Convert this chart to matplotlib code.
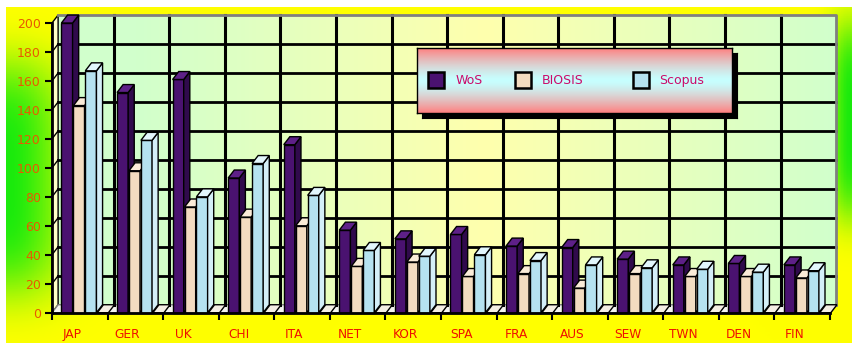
import numpy as np
import matplotlib.pyplot as plt
from matplotlib.patches import Polygon, Rectangle

categories = ["JAP", "GER", "UK", "CHI", "ITA", "NET", "KOR", "SPA", "FRA", "AUS", "SEW", "TWN", "DEN", "FIN"]
wos = [200, 152, 161, 93, 116, 57, 51, 54, 46, 45, 37, 33, 34, 33]
biosis = [143, 98, 73, 66, 60, 32, 35, 25, 27, 17, 27, 25, 25, 24]
scopus = [167, 119, 80, 103, 81, 43, 39, 40, 36, 33, 31, 30, 28, 29]
blank = [0, 0, 0, 0, 0, 0, 0, 0, 0, 0, 0, 0, 0, 0]
series_names = ["WoS", "BIOSIS", "Scopus"]
yticks = [0, 20, 40, 60, 80, 100, 120, 140, 160, 180, 200]

W, H = 859, 351
DX, DY = 0.11, 5.5          # fake 3d depth, in data units
BAR_W = 0.2
OFFSETS = [0.17, 0.385, 0.60, 0.815]
# front, side, top
STYLES = [("#4a1270", "#300a4c", "#5e2088"),
          ("#f3dcc0", "#d8bfa2", "#fbecd8"),
          ("#b5e2f0", "#d4eff8", "#e2f6fc"),
          ("#f0e6d8", "#d0c8bc", "#f4eee4")]


def fx(px):
    return px / W


def fy(py):
    return (H - py) / H


fig = plt.figure(figsize=(W / 100, H / 100), dpi=100)
fig.patch.set_facecolor("white")

# outer yellow/green background
bg = fig.add_axes([fx(6), fy(343), fx(846), 336 / H])
X, Y = np.meshgrid(np.linspace(6, 852, 300), np.linspace(7, 343, 150))
wl = np.exp(-((X - 6) / 58) ** 2) * np.exp(-((Y - 178) / 118) ** 4)
wr = np.exp(-((852 - X) / 22) ** 2) * np.exp(-((Y - 120) / 100) ** 4)
w = np.maximum(wl, wr)[..., None]
yellow = np.array([1.0, 1.0, 0.0])
green = np.array([0.1, 0.92, 0.05])
bg.imshow(yellow * (1 - w) + green * w, aspect="auto", extent=[0, 1, 1, 0])
bg.axis("off")

ax = fig.add_axes([fx(52), fy(312.7), 778 / W, 289.7 / H], zorder=1)
ax.set_facecolor("none")
n = len(categories)

# back wall gradient
t = np.linspace(0, 1, 200)
lg_green = np.array([0.82, 1.0, 0.80])
wall_yel = np.array([1.0, 1.0, 0.68])
k = np.clip(1 - np.abs(t - 0.55) / 0.45, 0, 1)[:, None]
wall = lg_green * (1 - k) + wall_yel * k
ax.imshow(wall[None, :, :], aspect="auto", extent=[DX, n + DX, DY, 200 + DY], zorder=0, clip_on=False)

# left wall and floor
ax.add_patch(Polygon([(0, 0), (DX, DY), (DX, 200 + DY), (0, 200)], closed=True,
                     facecolor="#ffffc8", edgecolor="black", lw=1, zorder=0.5, clip_on=False))
ax.add_patch(Polygon([(0, 0), (n, 0), (n + DX, DY), (DX, DY)], closed=True,
                     facecolor="#f4f4f0", edgecolor="#808080", lw=1, zorder=0.5, clip_on=False))

# grid on the back wall
for v in yticks[1:-1]:
    ax.plot([DX, n + DX], [v + DY, v + DY], color="black", lw=2, zorder=0.6, clip_on=False)
    ax.plot([0, DX], [v, v + DY], color="black", lw=1, zorder=0.6, clip_on=False)
for i in range(1, n):
    ax.plot([i + DX, i + DX], [DY, 200 + DY], color="black", lw=2.2, zorder=0.6, clip_on=False)
    ax.plot([i, i + DX], [0, DY], color="black", lw=1, zorder=0.6, clip_on=False)
ax.plot([DX, n + DX, n + DX], [200 + DY, 200 + DY, DY], color="#808080", lw=2, zorder=0.6, clip_on=False)
ax.plot([n, n + DX], [0, DY], color="#808080", lw=1.5, zorder=0.6, clip_on=False)

# 3d-ish bars, drawn left to right so nearer faces cover
z = 2
for i in range(n):
    for s, vals in enumerate([wos, biosis, scopus, blank]):
        front, side, top = STYLES[s]
        x0 = i + OFFSETS[s]
        h = vals[i]
        if h > 0:
            ax.bar(x0, h, width=BAR_W, align="edge", color=front, edgecolor="black", lw=1,
                   zorder=z, clip_on=False)
            ax.add_patch(Polygon([(x0 + BAR_W, 0), (x0 + BAR_W + DX, DY), (x0 + BAR_W + DX, h + DY),
                                  (x0 + BAR_W, h)], closed=True, facecolor=side, edgecolor="black",
                                 lw=1, zorder=z, clip_on=False))
        ax.add_patch(Polygon([(x0, h), (x0 + BAR_W, h), (x0 + BAR_W + DX, h + DY), (x0 + DX, h + DY)],
                             closed=True, facecolor=top, edgecolor="black", lw=1, zorder=z, clip_on=False))
        z += 0.01

ax.set_xlim(0, n)
ax.set_ylim(0, 200)
for side in ["top", "right"]:
    ax.spines[side].set_visible(False)
for side in ["left", "bottom"]:
    ax.spines[side].set_linewidth(2)
    ax.spines[side].set_zorder(5)

ax.set_yticks(yticks)
ax.set_yticklabels([str(v) for v in yticks])
ax.tick_params(axis="y", direction="out", length=5, width=1.5, colors="black", labelcolor="#e85a00",
               labelsize=9, pad=3)
ax.set_xticks(range(n + 1))
ax.set_xticklabels([])
ax.set_xticks([i + 0.36 for i in range(n)], minor=True)
ax.set_xticklabels(categories, minor=True)
ax.tick_params(axis="x", which="major", direction="out", length=5, width=1.5)
ax.tick_params(axis="x", which="minor", length=0, labelcolor="#ee1100", labelsize=8.7, pad=11)

# legend: shadow, gradient box, entries
box = [fx(417), fy(113), 315 / W, 65 / H]
shadow = fig.add_axes([box[0] + fx(5), box[1] - 5 / H, box[2], box[3]], zorder=2)
shadow.set_facecolor("black")
shadow.set_xticks([])
shadow.set_yticks([])
lg = fig.add_axes(box, zorder=3)
tt = np.abs(np.linspace(-1, 1, 100)) ** 1.4
pink = np.array([1.0, 0.5, 0.5])
cyan = np.array([0.78, 1.0, 1.0])
grad = cyan * (1 - tt[:, None]) + pink * tt[:, None]
lg.imshow(grad[:, None, :], aspect="auto", extent=[0, 1, 0, 1])
lg.set_xlim(0, 1)
lg.set_ylim(0, 1)
lg.set_xticks([])
lg.set_yticks([])
for sp in lg.spines.values():
    sp.set_color("black")
    sp.set_linewidth(1)

sq_x = [0.035, 0.311, 0.686]
txt_x = [0.124, 0.397, 0.768]
for s, name in enumerate(series_names):
    lg.add_patch(Rectangle((sq_x[s], 0.385), 0.051, 0.246, facecolor=STYLES[s][0],
                           edgecolor="black", lw=1.8))
    lg.text(txt_x[s], 0.5, name, color="#cc0a6a", fontsize=9, va="center", ha="left")

fig.savefig("out.png", dpi=100)
